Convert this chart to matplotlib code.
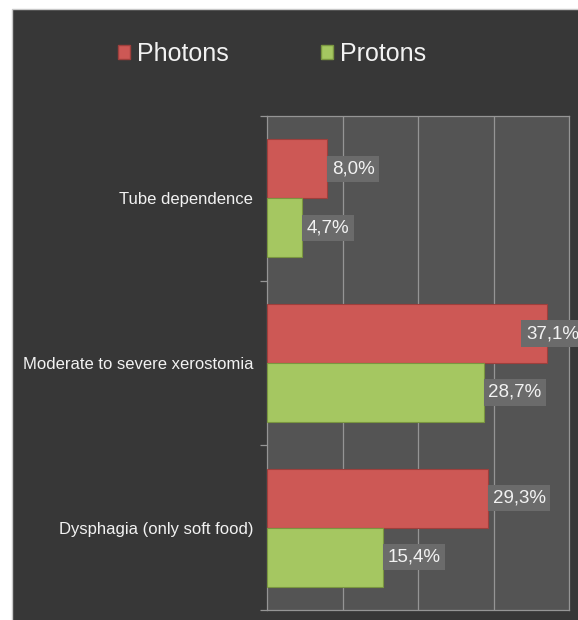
import matplotlib.pyplot as plt
from matplotlib.patches import Rectangle, Patch

# ----------------------------------
# Data
# ----------------------------------
categories = ['Tube dependence', 'Moderate to severe xerostomia', 'Dysphagia (only soft food)']
photons = [8.0, 37.1, 29.3]
protons = [4.7, 28.7, 15.4]
series_names = ['Photons', 'Protons']

# --- colors ---
clr_bg = '#373737'
clr_plot = '#545454'
clr_grid = '#959595'
clr_photons = '#cd5855'
clr_protons = '#a5c761'
clr_lbl_box = '#6b6b6b'
clr_txt = '#f2f2f2'

plt.rc('font', family=['Liberation Sans', 'DejaVu Sans'])

fig = plt.figure(figsize=(5.78, 6.2), dpi=100, facecolor='white')

# --- dark chart area with thin light border (right/bottom edges run off the figure) ---
fig.patches.append(Rectangle((12/578, -0.02), 1, 1.02 - 9/620, transform=fig.transFigure,
                             facecolor=clr_bg, edgecolor='#c8c8c8', linewidth=1, zorder=-10))

ax = fig.add_axes([267/578, 10/620, (569-267)/578, (610-116)/620])
ax.set_facecolor(clr_plot)

# --- bars ---
bh = 0.358
y = list(range(len(categories)))
y_ph = [v - bh/2 for v in y]
y_pr = [v + bh/2 for v in y]
ax.barh(y_ph, photons, height=bh, color=clr_photons, edgecolor='#9e3f3c', linewidth=0.8, zorder=3)
ax.barh(y_pr, protons, height=bh, color=clr_protons, edgecolor='#7a9640', linewidth=0.8, zorder=3)

# --- value labels ---
def lbl(yy, val):
    x = val + 0.6
    if val > 35: x = 34.3  # pushed back by the plot edge
    ax.text(x, yy, f'{val:.1f}%'.replace('.', ','), color=clr_txt, fontsize=13.5,
            va='center', ha='left', zorder=5, clip_on=False,
            bbox=dict(boxstyle='square,pad=0.25', facecolor=clr_lbl_box, edgecolor='none'))

for yy, v in zip(y_ph, photons): lbl(yy, v)
for yy, v in zip(y_pr, protons): lbl(yy, v)

# --- axes setup ---
ax.set_xlim(0, 40)
ax.set_ylim(len(categories) - 0.5, -0.5)
ax.set_xticks([10, 20, 30])
ax.tick_params(axis='x', length=0, labelbottom=False)
ax.grid(True, axis='x', color=clr_grid, linewidth=0.9, zorder=0)
ax.set_axisbelow(True)

ax.set_yticks([-0.5, 0.5, 1.5, 2.5])
ax.set_yticklabels([])
ax.tick_params(axis='y', which='major', length=5, color=clr_grid, width=0.9)
ax.set_yticks(y, minor=True)
ax.set_yticklabels(categories, minor=True, fontsize=12, color=clr_txt)
ax.tick_params(axis='y', which='minor', length=0, pad=10)

for s in ax.spines.values():
    s.set_color(clr_grid)
    s.set_linewidth(0.9)

# --- legend ---
handles = [Patch(facecolor=clr_photons, edgecolor='#9e3f3c'),
           Patch(facecolor=clr_protons, edgecolor='#7a9640')]
fig.legend(handles, series_names, loc='center', bbox_to_anchor=(0.4706, 1 - 54/620),
           ncol=2, frameon=False, fontsize=18, labelcolor=clr_txt,
           handlelength=0.48, handleheight=0.48, handletextpad=0.28, columnspacing=3.7)

plt.savefig('out.png', dpi=100)
